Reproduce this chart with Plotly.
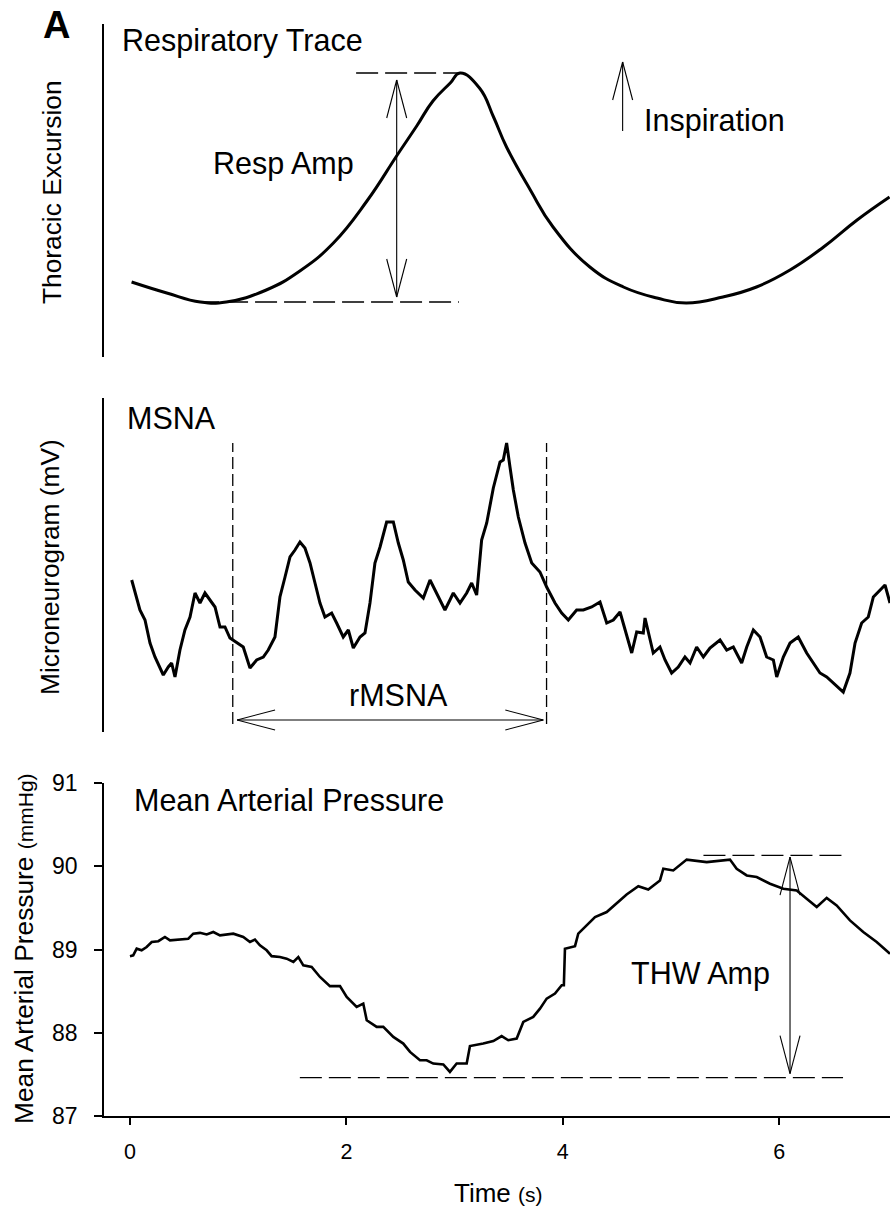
import plotly.graph_objects as go

# ---------------- data ----------------
# Respiratory trace (thoracic excursion, arbitrary units)
resp_t = [0.015, 0.34, 0.65, 0.89, 1.26, 1.57, 1.88, 2.19, 2.47, 2.65, 2.80, 2.96,
          3.05, 3.23, 3.36, 3.48, 3.70, 3.91, 4.25, 4.56, 4.87, 5.14, 5.48, 5.79,
          6.10, 6.41, 6.72, 7.02]
resp_v = [0.75, 0.64, 0.55, 0.55, 0.67, 0.86, 1.14, 1.56, 2.02, 2.31, 2.56, 2.74,
          2.84, 2.69, 2.40, 2.10, 1.67, 1.30, 0.90, 0.70, 0.59, 0.54, 0.60, 0.70,
          0.87, 1.10, 1.37, 1.60]

# Integrated microneurogram (mV)
msna_t = [0.016, 0.046, 0.092, 0.139, 0.185, 0.231, 0.308, 0.354, 0.385, 0.416,
          0.462, 0.508, 0.555, 0.601, 0.647, 0.693, 0.739, 0.786, 0.832, 0.878,
          0.924, 0.986, 1.047, 1.109, 1.171, 1.232, 1.278, 1.340, 1.386, 1.433,
          1.479, 1.525, 1.571, 1.617, 1.664, 1.710, 1.756, 1.802, 1.864, 1.910,
          1.971, 2.018, 2.064, 2.126, 2.172, 2.218, 2.264, 2.311, 2.372, 2.434,
          2.480, 2.526, 2.572, 2.634, 2.711, 2.773, 2.835, 2.911, 2.957, 2.988,
          3.050, 3.112, 3.158, 3.204, 3.250, 3.297, 3.358, 3.420, 3.450, 3.481,
          3.512, 3.543, 3.589, 3.651, 3.713, 3.789, 3.851, 3.928, 3.990, 4.051,
          4.128, 4.190, 4.267, 4.344, 4.406, 4.467, 4.529, 4.575, 4.637, 4.683,
          4.744, 4.760, 4.836, 4.898, 4.945, 5.006, 5.067, 5.129, 5.176, 5.237,
          5.299, 5.360, 5.453, 5.515, 5.576, 5.653, 5.700, 5.761, 5.823, 5.884,
          5.946, 5.977, 6.038, 6.100, 6.176, 6.254, 6.315, 6.377, 6.439, 6.500,
          6.592, 6.654, 6.701, 6.762, 6.823, 6.870, 6.932, 6.978, 7.024]
msna_v = [1.52, 1.39, 1.22, 1.12, 0.89, 0.75, 0.57, 0.65, 0.69, 0.55,
          0.82, 1.02, 1.15, 1.39, 1.29, 1.39, 1.32, 1.25, 1.05, 1.05,
          0.94, 0.89, 0.85, 0.64, 0.72, 0.75, 0.82, 0.95, 1.35, 1.55,
          1.75, 1.82, 1.90, 1.84, 1.69, 1.49, 1.29, 1.15, 1.19, 1.09,
          0.95, 1.02, 0.84, 0.95, 0.99, 1.29, 1.69, 1.85, 2.10, 2.10,
          1.89, 1.72, 1.50, 1.42, 1.34, 1.52, 1.39, 1.22, 1.32, 1.39,
          1.29, 1.39, 1.49, 1.37, 1.92, 2.09, 2.44, 2.70, 2.72, 2.89,
          2.65, 2.42, 2.15, 1.89, 1.69, 1.60, 1.45, 1.29, 1.19, 1.12,
          1.22, 1.22, 1.25, 1.30, 1.09, 1.12, 1.20, 1.02, 0.79, 1.00,
          0.99, 1.14, 0.79, 0.85, 0.72, 0.59, 0.65, 0.75, 0.69, 0.85,
          0.75, 0.84, 0.92, 0.82, 0.85, 0.69, 0.85, 1.02, 0.95, 0.75,
          0.72, 0.55, 0.75, 0.89, 0.95, 0.79, 0.69, 0.59, 0.55, 0.49,
          0.40, 0.59, 0.89, 1.09, 1.15, 1.35, 1.42, 1.47, 1.29]

# Mean arterial pressure (mmHg)
map_t = [0.000, 0.030, 0.062, 0.108, 0.154, 0.201, 0.262, 0.323, 0.370, 0.462,
         0.539, 0.585, 0.647, 0.709, 0.770, 0.832, 0.955, 1.047, 1.109, 1.155,
         1.201, 1.263, 1.309, 1.386, 1.448, 1.510, 1.556, 1.602, 1.679, 1.756,
         1.848, 1.941, 2.003, 2.095, 2.156, 2.188, 2.280, 2.341, 2.434, 2.526,
         2.588, 2.680, 2.742, 2.803, 2.896, 2.957, 3.019, 3.112, 3.142, 3.265,
         3.358, 3.435, 3.496, 3.574, 3.635, 3.727, 3.789, 3.851, 3.928, 3.990,
         4.010, 4.020, 4.113, 4.143, 4.221, 4.298, 4.406, 4.498, 4.590, 4.698,
         4.790, 4.898, 4.929, 5.021, 5.145, 5.330, 5.545, 5.607, 5.700, 5.792,
         5.915, 6.038, 6.162, 6.254, 6.347, 6.439, 6.531, 6.654, 6.777, 6.901,
         7.024]
map_v = [88.92, 88.93, 89.01, 88.99, 89.03, 89.09, 89.10, 89.15, 89.11, 89.12,
         89.13, 89.19, 89.20, 89.18, 89.21, 89.17, 89.19, 89.15, 89.09, 89.12,
         89.05, 88.99, 88.92, 88.91, 88.89, 88.85, 88.91, 88.81, 88.79, 88.67,
         88.56, 88.56, 88.43, 88.31, 88.35, 88.15, 88.07, 88.07, 87.95, 87.87,
         87.77, 87.67, 87.67, 87.63, 87.62, 87.53, 87.63, 87.63, 87.84, 87.87,
         87.90, 87.96, 87.91, 87.93, 88.13, 88.19, 88.29, 88.41, 88.47, 88.57,
         88.57, 89.01, 89.04, 89.19, 89.29, 89.39, 89.45, 89.55, 89.66, 89.76,
         89.72, 89.83, 89.97, 89.95, 90.08, 90.05, 90.08, 89.97, 89.89, 89.87,
         89.79, 89.73, 89.71, 89.61, 89.51, 89.62, 89.53, 89.35, 89.21, 89.09,
         88.95]

time_ticks = [0, 2, 4, 6]
map_ticks = [87, 88, 89, 90, 91]

# Annotated measures
resp_peak, resp_trough = 2.84, 0.55          # respiratory amplitude limits
resp_amp_t = 2.465                           # time of the amplitude arrow
resp_peak_span = (2.09, 3.07)
resp_trough_span = (0.62, 3.04)
insp_t, insp_tail, insp_tip = 4.553, 2.26, 2.95
rmsna_start, rmsna_end = 0.95, 3.85          # respiratory cycle window
rmsna_top, rmsna_level = 2.89, 0.12
thw_peak, thw_trough = 90.13, 87.46          # Traube-Hering wave limits
thw_t = 6.10
thw_peak_span = (5.30, 6.59)
thw_trough_span = (1.57, 6.59)

# ---------------- geometry ----------------
W, H, L = 890, 1212, 104
x_range = [-0.24, 7.024]
panels = {  # pixel top, pixel bottom, y range
    "resp": (24, 357, [0, 3.33]),
    "msna": (398, 732, [0, 3.34]),
    "map": (783, 1116, [87, 91]),
}
FONT = "Liberation Sans, Arial, sans-serif"
px_per_x = (W - L) / (x_range[1] - x_range[0])


def dom(top, bot):
    return [1 - bot / H, 1 - top / H]


def px_per_y(name):
    top, bot, rng = panels[name]
    return (bot - top) / (rng[1] - rng[0])


def xp(px):
    return (px - L) / (W - L)


def yp(py):
    return 1 - py / H


fig = go.Figure()
trace_style = dict(mode="lines", showlegend=False, hoverinfo="skip")
fig.add_trace(go.Scatter(x=resp_t, y=resp_v, line=dict(color="black", width=3, shape="spline", smoothing=1.3),
                         xaxis="x", yaxis="y", **trace_style))
fig.add_trace(go.Scatter(x=msna_t, y=msna_v, line=dict(color="black", width=3),
                         xaxis="x2", yaxis="y2", **trace_style))
fig.add_trace(go.Scatter(x=map_t, y=map_v, line=dict(color="black", width=2.6),
                         xaxis="x3", yaxis="y3", **trace_style))

shapes = []


def seg(xr, yr, x0, y0, x1, y1, width=1.2, dash=None):
    ln = dict(color="black", width=width)
    if dash:
        ln["dash"] = dash
    shapes.append(dict(type="line", xref=xr, yref=yr, x0=x0, y0=y0, x1=x1, y1=y1, line=ln))


def head(xr, yr, panel, tx, ty, dx, dy, length=38, half=10):
    """Open V arrowhead at (tx, ty); (dx, dy) is the pixel direction of travel."""
    sy = px_per_y(panel)
    for s in (1, -1):
        ox = -dx * length + s * (-dy) * half
        oy = -dy * length + s * dx * half
        seg(xr, yr, tx, ty, tx + ox / px_per_x, ty + oy / sy, width=1.1)


DASH_H = "22px,7px"
DASH_V = "12px,5px"

# Respiratory amplitude
seg("x", "y", resp_peak_span[0], resp_peak, resp_peak_span[1], resp_peak, 1.3, DASH_H)
seg("x", "y", resp_trough_span[0], resp_trough, resp_trough_span[1], resp_trough, 1.3, DASH_H)
a_top, a_bot = resp_peak - 0.07, resp_trough + 0.05
seg("x", "y", resp_amp_t, a_bot, resp_amp_t, a_top, 1.1)
head("x", "y", "resp", resp_amp_t, a_top, 0, 1)
head("x", "y", "resp", resp_amp_t, a_bot, 0, -1)

# Inspiration direction
seg("x", "y", insp_t, insp_tail, insp_t, insp_tip, 1.1)
head("x", "y", "resp", insp_t, insp_tip, 0, 1)

# rMSNA window
seg("x2", "y2", rmsna_start, 0.08, rmsna_start, rmsna_top, 1.3, DASH_V)
seg("x2", "y2", rmsna_end, 0.08, rmsna_end, rmsna_top, 1.3, DASH_V)
r0, r1 = rmsna_start + 0.04, rmsna_end - 0.03
seg("x2", "y2", r0, rmsna_level, r1, rmsna_level, 1.1)
head("x2", "y2", "msna", r0, rmsna_level, -1, 0)
head("x2", "y2", "msna", r1, rmsna_level, 1, 0)

# THW amplitude
seg("x3", "y3", thw_peak_span[0], thw_peak, thw_peak_span[1], thw_peak, 1.3, DASH_H)
seg("x3", "y3", thw_trough_span[0], thw_trough, thw_trough_span[1], thw_trough, 1.3, DASH_H)
t_top, t_bot = thw_peak - 0.02, thw_trough + 0.05
seg("x3", "y3", thw_t, t_bot, thw_t, t_top, 1.1)
head("x3", "y3", "map", thw_t, t_top, 0, 1)
head("x3", "y3", "map", thw_t, t_bot, 0, -1)

# ---------------- axes ----------------
hidden_x = dict(range=x_range, domain=[0, 1], visible=False, fixedrange=True)
layout_axes = {}
for i, name in enumerate(["resp", "msna", "map"], start=1):
    top, bot, rng = panels[name]
    sfx = "" if i == 1 else str(i)
    y_ax = dict(domain=dom(top, bot), range=rng, anchor="x" + sfx,
                showline=True, linecolor="black", linewidth=1.8,
                showgrid=False, zeroline=False, fixedrange=True)
    if name == "map":
        y_ax.update(tickmode="array", tickvals=map_ticks, ticks="outside", ticklen=8,
                    tickwidth=1.6, tickcolor="black", ticklabelstandoff=12,
                    tickfont=dict(family=FONT, size=23, color="black"))
        x_ax = dict(range=x_range, domain=[0, 1], anchor="y3", showline=True,
                    linecolor="black", linewidth=1.8, showgrid=False, zeroline=False,
                    tickmode="array", tickvals=time_ticks, ticks="outside", ticklen=7,
                    tickwidth=1.6, tickcolor="black", ticklabelstandoff=8,
                    tickfont=dict(family=FONT, size=21.5, color="black"), fixedrange=True)
    else:
        y_ax.update(showticklabels=False, ticks="")
        x_ax = dict(hidden_x, anchor="y" + sfx)
    layout_axes["yaxis" + sfx] = y_ax
    layout_axes["xaxis" + sfx] = x_ax

# ---------------- text ----------------
def txt(text, x, y, size, xref="paper", yref="paper", xanchor="center", angle=0, bold=False):
    return dict(text=text, x=x, y=y, xref=xref, yref=yref, xanchor=xanchor, yanchor="middle",
                showarrow=False, textangle=angle,
                font=dict(family=FONT, size=size, color="black",
                          weight="bold" if bold else "normal"))


LBL = 30.5
annotations = [
    txt("A", xp(56), yp(25), 38, bold=True),
    txt("Respiratory Trace", -0.09, 3.17, LBL, "x", "y", "left"),
    txt("Resp Amp", 1.42, 1.94, LBL, "x", "y"),
    txt("Inspiration", 4.73, 2.37, LBL, "x", "y", "left"),
    txt("MSNA", -0.05, 3.14, LBL, "x2", "y2", "left"),
    txt("rMSNA", 2.486, 0.37, LBL, "x2", "y2"),
    txt("Mean Arterial Pressure", 0.02, 90.79, LBL, "x3", "y3", "left"),
    txt("THW Amp", 5.277, 88.71, LBL, "x3", "y3"),
    txt("Thoracic Excursion", xp(52), yp(192), 26.3, angle=-90),
    txt("Microneurogram (mV)", xp(50), yp(567), 26.3, angle=-90),
    txt("Mean Arterial Pressure <span style='font-size:21px'>(mmHg)</span>",
        xp(24), yp(949), 26.3, angle=-90),
    txt("Time <span style='font-size:21px'>(s)</span>", xp(498), yp(1193), 26),
]

fig.update_layout(
    width=W, height=H,
    margin=dict(l=L, r=0, t=0, b=0, autoexpand=False),
    paper_bgcolor="white", plot_bgcolor="white",
    shapes=shapes, annotations=annotations,
    showlegend=False,
    **layout_axes,
)

fig.write_html("out.html", config={"displayModeBar": False})
